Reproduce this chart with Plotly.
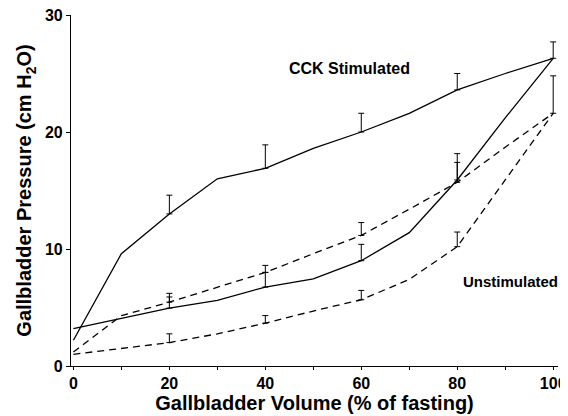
import plotly.graph_objects as go

volume = [0, 10, 20, 30, 40, 50, 60, 70, 80, 90, 100]

# CCK stimulated (solid)
cck_upper = [2.2, 9.6, 13.0, 16.0, 16.9, 18.6, 20.0, 21.6, 23.6, 25.0, 26.3]
cck_lower = [3.2, 4.1, 4.95, 5.6, 6.75, 7.45, 9.0, 11.4, 15.9, 21.2, 26.3]
# Unstimulated (dashed)
uns_upper = [1.2, 4.3, 5.46, 6.7, 8.0, 9.6, 11.16, 13.4, 15.7, 18.7, 21.6]
uns_lower = [1.0, 1.47, 2.0, 2.75, 3.66, 4.7, 5.66, 7.4, 10.2, 15.9, 21.6]

# Error bars (upper only), at measured volumes
cck_upper_err_x = [20, 40, 60, 80, 100]
cck_upper_err = [1.6, 2.0, 1.6, 1.4, 1.4]
cck_lower_err_x = [20, 40, 60, 80]
cck_lower_err = [0.95, 1.25, 1.4, 1.5]
uns_upper_err_x = [20, 40, 60, 80, 100]
uns_upper_err = [0.75, 0.6, 1.1, 2.45, 3.2]
uns_lower_err_x = [20, 40, 60, 80]
uns_lower_err = [0.75, 0.65, 0.8, 1.25]

x_ticks = [0, 20, 40, 60, 80, 100]
y_ticks = [0, 10, 20, 30]

FONT = "Liberation Sans, Arial, Helvetica, sans-serif"

fig = go.Figure()

def add(y, dash, ex, err):
    fig.add_trace(go.Scatter(
        x=volume, y=y, mode="lines",
        line=dict(color="black", width=1.3, dash=dash),
        showlegend=False, hoverinfo="skip"))
    ey = [y[volume.index(v)] for v in ex]
    fig.add_trace(go.Scatter(
        x=ex, y=ey, mode="markers",
        marker=dict(size=1, color="rgba(0,0,0,0)"),
        error_y=dict(type="data", array=err, arrayminus=[0] * len(err), symmetric=False,
                     color="black", thickness=1, width=3),
        showlegend=False, hoverinfo="skip"))

add(cck_upper, "solid", cck_upper_err_x, cck_upper_err)
add(cck_lower, "solid", cck_lower_err_x, cck_lower_err)
add(uns_upper, "7px,5px", uns_upper_err_x, uns_upper_err)
add(uns_lower, "7px,5px", uns_lower_err_x, uns_lower_err)

fig.add_annotation(x=57.6, y=25.4, text="CCK Stimulated", showarrow=False,
                   font=dict(family=FONT, size=16, color="black", weight="bold"))
fig.add_annotation(x=91, y=7.2, text="Unstimulated", showarrow=False,
                   font=dict(family=FONT, size=15, color="black", weight="bold"))

# the page body adds an 8 px offset; figure size and margins compensate for it
fig.update_layout(
    width=560, height=408,
    margin=dict(l=63, r=10, t=7, b=50),
    paper_bgcolor="white", plot_bgcolor="white",
    font=dict(family=FONT, color="black"),
    xaxis=dict(range=[-0.5, 101], tickvals=x_ticks, ticktext=[str(v) for v in x_ticks],
               automargin=False, ticklabeloverflow="allow",
               showgrid=False, zeroline=False, showline=True, linecolor="black", linewidth=1.2,
               ticks="outside", ticklen=3, tickcolor="black",
               minor=dict(dtick=10, tick0=0, ticks="outside", ticklen=3, tickcolor="black"),
               tickfont=dict(family=FONT, size=16, weight="bold"),
               title=dict(text="Gallbladder Volume (% of fasting)", standoff=2,
                          font=dict(family=FONT, size=20, weight="bold"))),
    yaxis=dict(range=[0, 30], tickvals=y_ticks, ticktext=[str(v) for v in y_ticks],
               automargin=False, ticklabeloverflow="allow",
               showgrid=False, zeroline=False, showline=True, linecolor="black", linewidth=1.2,
               ticks="outside", ticklen=4, tickcolor="black",
               tickfont=dict(family=FONT, size=16, weight="bold"),
               title=dict(text="Gallbladder Pressure (cm H<sub>2</sub>O)", standoff=7,
                          font=dict(family=FONT, size=20, weight="bold"))),
)

fig.write_html("out.html")
